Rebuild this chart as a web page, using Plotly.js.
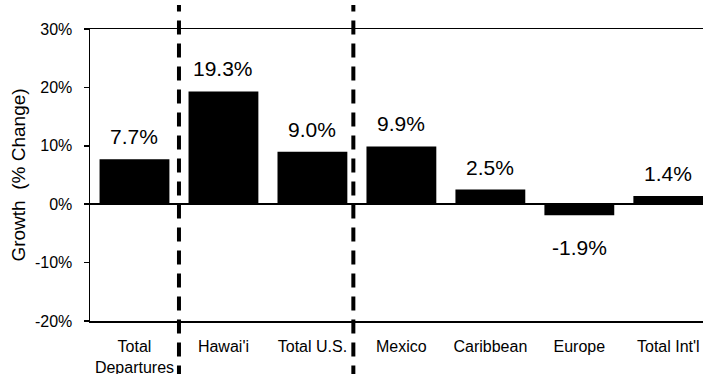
<!DOCTYPE html>
<html>
<head>
<meta charset="utf-8">
<script src="https://cdn.plot.ly/plotly-3.0.1.min.js"></script>
<style>html,body{margin:0;padding:0;background:#fff;}#chart{width:703px;height:374px;}</style>
</head>
<body>
<div id="chart"></div>
<script>
var categories = ["Total<br>Departures", "Hawai'i", "Total U.S.", "Mexico", "Caribbean", "Europe", "Total Int'l"];
var growth = [7.7, 19.3, 9.0, 9.9, 2.5, -1.9, 1.4];
var yTicks = [-20, -10, 0, 10, 20, 30];
var yTickLabels = ["-20%", "-10%", "0%", "10%", "20%", "30%"];

var FONT = "Arial, 'Liberation Sans', sans-serif";
var idx = categories.map(function(_, i){ return i; });

var trace = {
  type: 'bar',
  x: idx,
  y: growth,
  marker: {color: '#000000', line: {width: 0}},
  hoverinfo: 'skip'
};

var annotations = growth.map(function(v, i){
  return {
    x: i, y: v, xref: 'x', yref: 'y',
    text: v.toFixed(1) + '%',
    showarrow: false,
    yanchor: v >= 0 ? 'bottom' : 'top',
    yshift: v >= 0 ? 9 : -19,
    font: {family: FONT, size: 21, color: '#000'}
  };
});

function divider(xpos){
  return {
    type: 'line', xref: 'x', yref: 'paper',
    x0: xpos, x1: xpos, y0: -0.2, y1: 1.082,
    line: {color: '#000', width: 4, dash: '14px,9px'},
    layer: 'above'
  };
}

var layout = {
  width: 703, height: 374,
  margin: {l: 90, r: 0, t: 29, b: 53},
  paper_bgcolor: '#fff', plot_bgcolor: '#fff',
  showlegend: false,
  bargap: 0.215,
  font: {family: FONT, size: 17, color: '#000'},
  xaxis: {
    range: [-0.5, 6.39],
    tickmode: 'array', tickvals: idx, ticktext: categories,
    showgrid: false, zeroline: false,
    showline: true, linecolor: '#000', linewidth: 1.5, mirror: true,
    ticks: '', ticklabelstandoff: 10,
    tickfont: {family: FONT, size: 16, color: '#000'},
    fixedrange: true
  },
  yaxis: {
    range: [-20, 30],
    tickmode: 'array', tickvals: yTicks, ticktext: yTickLabels,
    showgrid: false,
    zeroline: true, zerolinecolor: '#000', zerolinewidth: 1.5,
    showline: true, linecolor: '#000', linewidth: 1.5, mirror: false,
    ticks: 'outside', ticklen: 5, tickcolor: '#000', tickwidth: 1.5,
    ticklabelstandoff: 8,
    tickfont: {family: FONT, size: 16, color: '#000'},
    title: {text: 'Growth\u00a0\u00a0(% Change)', font: {family: FONT, size: 19, color: '#000'}, standoff: 4},
    fixedrange: true
  },
  annotations: annotations,
  shapes: [divider(0.5), divider(2.46)]
};

Plotly.newPlot('chart', [trace], layout, {staticPlot: true, displayModeBar: false});
</script>
</body>
</html>
